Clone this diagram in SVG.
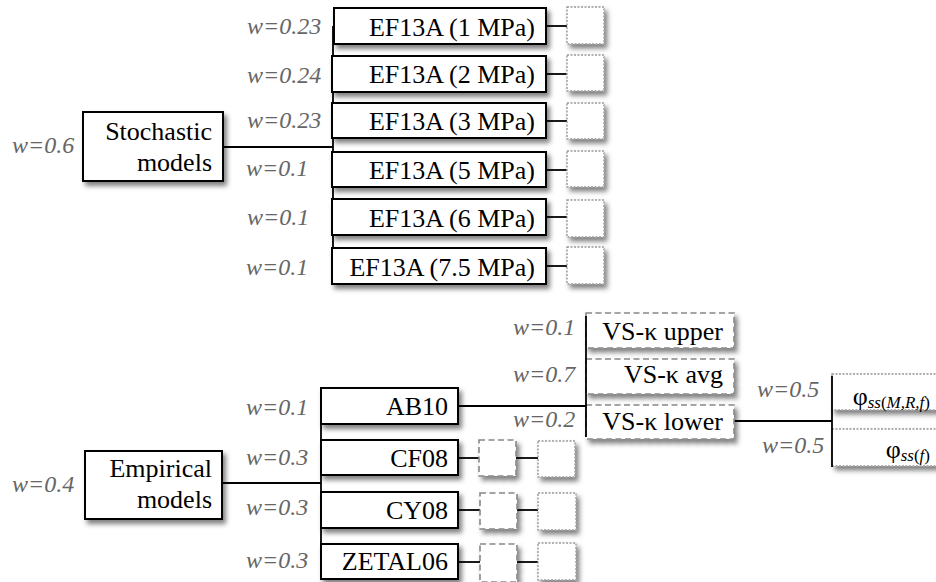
<svg xmlns="http://www.w3.org/2000/svg" width="936" height="582" viewBox="0 0 936 582">
<defs>
<filter id="sh" x="-20%" y="-20%" width="150%" height="160%">
<feDropShadow dx="3" dy="4" stdDeviation="2.4" flood-color="#000" flood-opacity="0.5"/>
</filter>
<style>
.n rect{fill:#fff;stroke:#000;stroke-width:2;filter:url(#sh)}
.d rect{fill:#fff;stroke:#888;stroke-width:1.6;stroke-dasharray:6 3.5;filter:url(#sh)}
.o rect{fill:#fff;stroke:#999;stroke-width:1.4;stroke-dasharray:2 1.5;filter:url(#sh)}
.t{font-family:"Liberation Serif","DejaVu Serif",serif;font-size:26px;fill:#000;text-anchor:end}
.w{font-family:"Liberation Serif","DejaVu Serif",serif;font-size:24px;fill:#666;font-style:italic}
.p{font-family:"Liberation Serif","DejaVu Serif",serif;font-size:26px;fill:#000;text-anchor:end}
.c line{stroke:#000;stroke-width:1.8}
.sub{font-size:17px;font-style:italic}
.up{font-style:normal}
</style>
</defs>
<rect width="936" height="582" fill="#fff"/>

<g class="c" id="connectors">
<line x1="222" y1="147" x2="333" y2="147"/>
<line x1="333" y1="26" x2="333" y2="266"/>
<line x1="546" y1="26" x2="567" y2="26"/>
<line x1="546" y1="74" x2="567" y2="74"/>
<line x1="546" y1="121" x2="567" y2="121"/>
<line x1="546" y1="170" x2="567" y2="170"/>
<line x1="546" y1="217" x2="567" y2="217"/>
<line x1="546" y1="266" x2="567" y2="266"/>
<line x1="222" y1="483" x2="321" y2="483"/>
<line x1="321" y1="406" x2="321" y2="562"/>
<line x1="458" y1="406" x2="586" y2="406"/>
<line x1="458" y1="458" x2="479" y2="458"/>
<line x1="516" y1="458" x2="538" y2="458"/>
<line x1="458" y1="510" x2="480" y2="510"/>
<line x1="516" y1="510" x2="538" y2="510"/>
<line x1="458" y1="562" x2="480" y2="562"/>
<line x1="516" y1="562" x2="538" y2="562"/>
<line x1="734" y1="421" x2="832" y2="421"/>
</g>

<g id="stochastic" class="n"><rect x="83" y="112" width="140" height="69"/><text class="t" x="212" y="140">Stochastic</text><text class="t" x="212" y="171">models</text></g>
<text class="w" x="12" y="153">w=0.6</text>

<g id="ef1" class="n"><rect x="334" y="8" width="212" height="36"/><text class="t" x="535" y="36">EF13A (1 MPa)</text></g>
<g id="ef2" class="n"><rect x="332" y="56" width="214" height="36"/><text class="t" x="535" y="83">EF13A (2 MPa)</text></g>
<g id="ef3" class="n"><rect x="332" y="103" width="214" height="35"/><text class="t" x="535" y="130">EF13A (3 MPa)</text></g>
<g id="ef5" class="n"><rect x="332" y="152" width="214" height="35"/><text class="t" x="535" y="179">EF13A (5 MPa)</text></g>
<g id="ef6" class="n"><rect x="332" y="199" width="214" height="36"/><text class="t" x="535" y="227">EF13A (6 MPa)</text></g>
<g id="ef75" class="n"><rect x="332" y="248" width="214" height="36"/><text class="t" x="535" y="276">EF13A (7.5 MPa)</text></g>

<text class="w" x="247" y="34">w=0.23</text>
<text class="w" x="247" y="83">w=0.24</text>
<text class="w" x="247" y="128">w=0.23</text>
<text class="w" x="246" y="176">w=0.1</text>
<text class="w" x="247" y="225">w=0.1</text>
<text class="w" x="246" y="275">w=0.1</text>

<g id="ef1o" class="o"><rect x="567" y="7" width="37" height="37"/></g>
<g id="ef2o" class="o"><rect x="567" y="55" width="37" height="36"/></g>
<g id="ef3o" class="o"><rect x="567" y="103" width="37" height="36"/></g>
<g id="ef5o" class="o"><rect x="567" y="151" width="37" height="36"/></g>
<g id="ef6o" class="o"><rect x="567" y="200" width="37" height="37"/></g>
<g id="ef75o" class="o"><rect x="567" y="247" width="37" height="37"/></g>

<g id="empirical" class="n"><rect x="85" y="451" width="137" height="68"/><text class="t" x="212" y="477">Empirical</text><text class="t" x="212" y="508">models</text></g>
<text class="w" x="12" y="492">w=0.4</text>

<g id="ab10" class="n"><rect x="321" y="388" width="137" height="36"/><text class="t" x="448" y="415">AB10</text></g>
<g id="cf08" class="n"><rect x="321" y="440" width="137" height="35"/><text class="t" x="448" y="467">CF08</text></g>
<g id="cy08" class="n"><rect x="321" y="492" width="137" height="36"/><text class="t" x="448" y="519">CY08</text></g>
<g id="zetal06" class="n"><rect x="321" y="544" width="137" height="35"/><text class="t" x="448" y="570">ZETAL06</text></g>

<text class="w" x="246" y="415">w=0.1</text>
<text class="w" x="246" y="465">w=0.3</text>
<text class="w" x="246" y="515">w=0.3</text>
<text class="w" x="246" y="568">w=0.3</text>

<g id="cf08d" class="d"><rect x="479" y="440" width="37" height="36"/></g>
<g id="cy08d" class="d"><rect x="480" y="493" width="37" height="36"/></g>
<g id="zetal06d" class="d"><rect x="480" y="544" width="37" height="38"/></g>
<g id="cf08o" class="o"><rect x="538" y="441" width="37" height="36"/></g>
<g id="cy08o" class="o"><rect x="538" y="493" width="38" height="37"/></g>
<g id="zetal06o" class="o"><rect x="538" y="543" width="38" height="37"/></g>

<g id="vsu" class="d"><rect x="586" y="313" width="148" height="35"/><text class="t" x="723" y="340">VS-κ upper</text></g>
<g id="vsa" class="d"><rect x="586" y="359" width="148" height="35"/><text class="t" x="723" y="383">VS-κ avg</text></g>
<g id="vsl" class="d"><rect x="586" y="405" width="148" height="34"/><text class="t" x="723" y="430">VS-κ lower</text></g>
<g class="c"><line x1="586" y1="316" x2="586" y2="437"/></g>

<text class="w" x="513" y="335">w=0.1</text>
<text class="w" x="513" y="382">w=0.7</text>
<text class="w" x="513" y="427">w=0.2</text>

<g id="phi1" class="o"><rect x="832" y="374" width="112" height="36"/><text class="p" x="930" y="405">φ<tspan class="sub" dy="3">ss<tspan class="up">(</tspan>M,R,f<tspan class="up">)</tspan></tspan></text></g>
<g id="phi2" class="o"><rect x="832" y="429" width="112" height="37"/><text class="p" x="930" y="458">φ<tspan class="sub" dy="3">ss<tspan class="up">(</tspan>f<tspan class="up">)</tspan></tspan></text></g>
<g class="c"><line x1="832" y1="376" x2="832" y2="467"/></g>

<text class="w" x="757" y="397">w=0.5</text>
<text class="w" x="762" y="453">w=0.5</text>
</svg>
